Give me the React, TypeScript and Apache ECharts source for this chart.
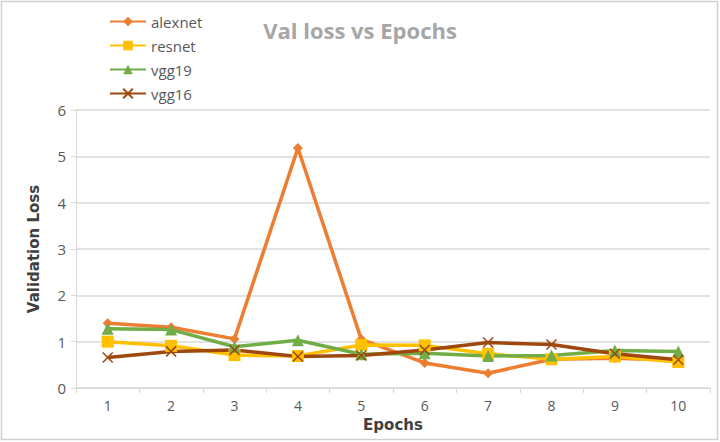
import React, { useEffect, useRef } from "react";
import * as echarts from "echarts";

const epochs = ["1", "2", "3", "4", "5", "6", "7", "8", "9", "10"];
const alexnet = [1.4, 1.31, 1.06, 5.18, 1.05, 0.54, 0.32, 0.62, 0.64, 0.6];
const resnet = [1.0, 0.91, 0.71, 0.69, 0.93, 0.92, 0.74, 0.62, 0.68, 0.56];
const vgg19 = [1.28, 1.26, 0.89, 1.03, 0.73, 0.75, 0.69, 0.7, 0.81, 0.79];
const vgg16 = [0.66, 0.79, 0.82, 0.68, 0.7, 0.82, 0.98, 0.94, 0.74, 0.61];

const crossPath = "path://M0,0 L10,10 M10,0 L0,10";
const narrow = "'Liberation Sans Narrow', 'Open Sans', sans-serif";

export default function App() {
  const ref = useRef<HTMLDivElement>(null);
  useEffect(() => {
    if (!ref.current) return;
    const chart = echarts.init(ref.current, undefined, { renderer: "svg" });
    const mk = (name: string, data: number[], color: string, symbol: string, size: number, extra: any = {}) => ({
      name,
      type: "line",
      data,
      symbol,
      symbolSize: size,
      lineStyle: { color, width: 3.5 },
      itemStyle: { color, ...extra },
      z: 2,
    });
    chart.setOption({
      animation: false,
      backgroundColor: "#ffffff",
      title: {
        text: "Val loss vs Epochs",
        left: 355,
        textAlign: "center",
        top: 14,
        textStyle: { fontFamily: narrow, fontSize: 22, fontWeight: "bold", color: "#a6a6a6" },
      },
      legend: {
        orient: "vertical",
        left: 104,
        top: 9,
        itemWidth: 36,
        itemHeight: 12,
        itemGap: 9,
        textStyle: { fontFamily: narrow, fontSize: 15, color: "#595959" },
        data: ["alexnet", "resnet", "vgg19", "vgg16"],
      },
      grid: { left: 76, right: 10, top: 110, bottom: 54 },
      xAxis: {
        type: "category",
        data: epochs,
        boundaryGap: true,
        name: "Epochs",
        nameLocation: "middle",
        nameGap: 29,
        nameTextStyle: { fontFamily: "'DejaVu Sans', sans-serif", fontSize: 15, fontWeight: "bold", color: "#404040" },
        axisLine: { lineStyle: { color: "#d9d9d9", width: 1 } },
        axisTick: { show: true, length: 5, lineStyle: { color: "#d9d9d9" } },
        axisLabel: { fontFamily: narrow, fontSize: 14, color: "#595959", margin: 10 },
      },
      yAxis: {
        type: "value",
        min: 0,
        max: 6,
        interval: 1,
        name: "Validation Loss",
        nameLocation: "middle",
        nameGap: 35,
        nameTextStyle: { fontFamily: "'DejaVu Sans', sans-serif", fontSize: 15, fontWeight: "bold", color: "#404040" },
        axisLine: { show: true, lineStyle: { color: "#d9d9d9", width: 1 } },
        axisTick: { show: true, length: 5, lineStyle: { color: "#d9d9d9" } },
        axisLabel: { fontFamily: narrow, fontSize: 15, color: "#595959", margin: 10 },
        splitLine: { lineStyle: { color: "#d9d9d9", width: 1.5 } },
      },
      graphic: [
        {
          type: "rect",
          shape: { x: 1.5, y: 1.5, width: 716, height: 438 },
          style: { fill: "none", stroke: "#d0d0d0", lineWidth: 1.5 },
          silent: true,
        },
      ],
      series: [
        mk("alexnet", alexnet, "#ED7D31", "diamond", 10),
        mk("resnet", resnet, "#FFC000", "rect", 12),
        mk("vgg19", vgg19, "#70AD47", "triangle", 12),
        mk("vgg16", vgg16, "#9E480E", crossPath, 10, { borderColor: "#9E480E", borderWidth: 1.5 }),
      ],
    });
    return () => chart.dispose();
  }, []);
  return (
    <div
      ref={ref}
      style={{ position: "fixed", left: 0, top: 0, width: 720, height: 442 }}
    />
  );
}
